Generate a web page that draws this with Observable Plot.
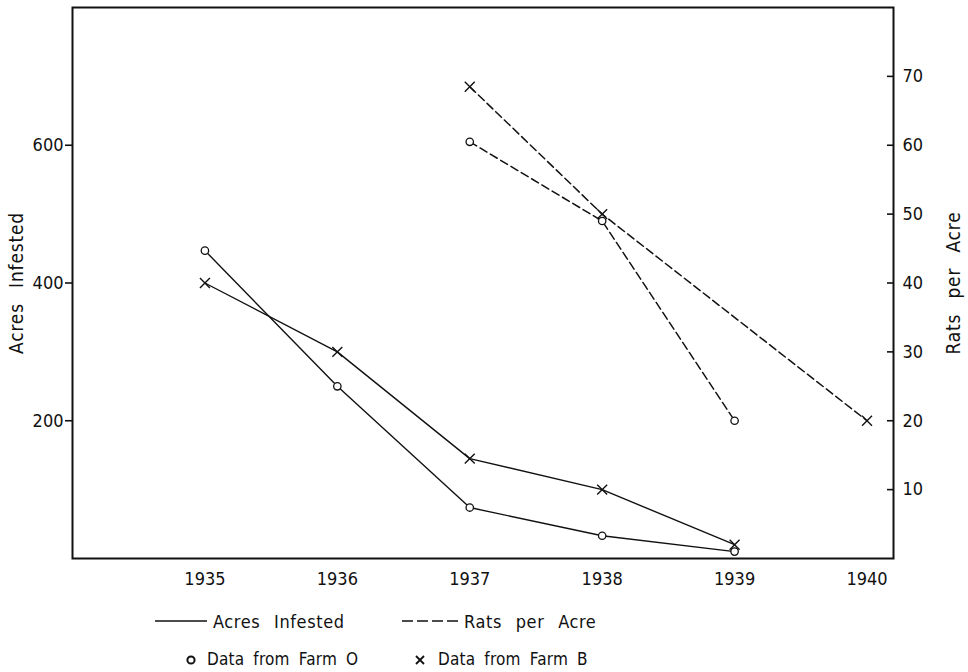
<!DOCTYPE html>
<html>
<head>
<meta charset="utf-8">
<script src="https://cdn.jsdelivr.net/npm/d3@7"></script>
<script src="https://cdn.jsdelivr.net/npm/@observablehq/plot@0.6"></script>
<style>
  html, body { margin: 0; padding: 0; background: #fff; }
  body { width: 968px; height: 672px; overflow: hidden;
         font-family: "Liberation Sans Narrow", "DejaVu Sans Condensed", "DejaVu Sans", sans-serif;
         color: #111; }
  #legend { position: relative; width: 968px; height: 72px; font-size: 18px; }
  #legend .item { position: absolute; display: flex; align-items: center; white-space: nowrap; height: 22px; }
  #legend .row1 { word-spacing: 8px; letter-spacing: 0.6px; }
  #legend .row2 { font-size: 17px; word-spacing: 4px; letter-spacing: 0.2px; }
  #legend svg { margin-right: 6px; }
  svg [aria-label="y-axis label"] text { font-size: 19px; word-spacing: 9px; letter-spacing: 0.8px; }
</style>
</head>
<body>
<div id="chart"></div>
<div id="legend"></div>
<script>
// Years on the horizontal axis
const years = [1935, 1936, 1937, 1938, 1939, 1940];

// Acres infested (left axis)
const acresYears = [1935, 1936, 1937, 1938, 1939];
const acresFarmO = [447, 250, 74, 33, 10];
const acresFarmB = [400, 300, 145, 100, 20];

// Rats per acre (right axis)
const ratsFarmOYears = [1937, 1938, 1939];
const ratsFarmO = [60.5, 49, 20];
const ratsFarmBYears = [1937, 1938, 1940];
const ratsFarmB = [68.5, 50, 20];

// Tick values
const leftTicks = [200, 400, 600];
const rightTicks = [10, 20, 30, 40, 50, 60, 70];

// Right axis shares the plot's y scale: 1 rat per acre = 10 acres
const ratio = 10;

const acresO = acresYears.map((year, i) => ({year, value: acresFarmO[i]}));
const acresB = acresYears.map((year, i) => ({year, value: acresFarmB[i]}));
const ratsO = ratsFarmOYears.map((year, i) => ({year, value: ratsFarmO[i] * ratio}));
const ratsB = ratsFarmBYears.map((year, i) => ({year, value: ratsFarmB[i] * ratio}));

const font = '"Liberation Sans Narrow", "DejaVu Sans Condensed", "DejaVu Sans", sans-serif';

const chart = Plot.plot({
  width: 968,
  height: 600,
  marginLeft: 72,
  marginRight: 75,
  marginTop: 7,
  marginBottom: 42,
  style: {fontSize: "18px", fontFamily: font, color: "#111", background: "#fff"},
  x: {domain: [1934, 1940.2], axis: null},
  y: {domain: [0, 800], axis: null},
  marks: [
    Plot.frame({stroke: "#111", strokeWidth: 2}),
    Plot.axisX({ticks: years, tickSize: 0, tickPadding: 14, tickFormat: d => String(d), label: null}),
    Plot.axisY({anchor: "left", ticks: leftTicks, tickSize: 7, tickPadding: 2, strokeWidth: 1.6,
                label: "Acres Infested", labelAnchor: "center", labelOffset: 63, labelArrow: false}),
    Plot.axisY({anchor: "right", ticks: rightTicks.map(d => d * ratio), tickSize: -7, strokeWidth: 1.6,
                fill: "none", label: null}),
    Plot.axisY({anchor: "right", ticks: rightTicks.map(d => d * ratio), tickSize: 0, tickPadding: 9,
                tickFormat: d => String(d / ratio),
                label: "Rats per Acre", labelAnchor: "center", labelOffset: 66, labelArrow: false}),
    Plot.line(acresO, {x: "year", y: "value", stroke: "#111", strokeWidth: 1.4}),
    Plot.line(acresB, {x: "year", y: "value", stroke: "#111", strokeWidth: 1.4}),
    Plot.line(ratsO, {x: "year", y: "value", stroke: "#111", strokeWidth: 1.5, strokeDasharray: "8,4"}),
    Plot.line(ratsB, {x: "year", y: "value", stroke: "#111", strokeWidth: 1.5, strokeDasharray: "8,4"}),
    Plot.dot([...acresO, ...ratsO], {x: "year", y: "value", r: 3.7, fill: "#fff", stroke: "#111", strokeWidth: 1.3}),
    Plot.dot([...acresB, ...ratsB], {x: "year", y: "value", r: 4.6, symbol: "times", stroke: "#111", strokeWidth: 1.4})
  ]
});
document.getElementById("chart").append(chart);

// Legend (HTML below the SVG)
const legendItems = [
  {label: "Acres Infested", row: "row1", left: 155, top: 10, swatch: `<svg width="52" height="10"><line x1="0" x2="52" y1="5" y2="5" stroke="#111" stroke-width="1.6"/></svg>`},
  {label: "Rats per Acre", row: "row1", left: 402, top: 10, swatch: `<svg width="56" height="10"><line x1="0" x2="56" y1="5" y2="5" stroke="#111" stroke-width="1.6" stroke-dasharray="11,4"/></svg>`},
  {label: "Data from Farm O", row: "row2", left: 184, top: 48, swatch: `<svg width="14" height="14" style="margin-right:9px"><circle cx="7" cy="8" r="3.6" fill="none" stroke="#111" stroke-width="2"/></svg>`},
  {label: "Data from Farm B", row: "row2", left: 413, top: 48, swatch: `<svg width="14" height="14" style="margin-right:11px"><path d="M3,4L11,12M11,4L3,12" stroke="#111" stroke-width="1.8"/></svg>`}
];
const legend = document.getElementById("legend");
for (const it of legendItems) {
  const div = document.createElement("div");
  div.className = "item " + it.row;
  div.style.left = it.left + "px";
  div.style.top = it.top + "px";
  div.innerHTML = it.swatch + `<span>${it.label}</span>`;
  legend.append(div);
}
</script>
</body>
</html>
